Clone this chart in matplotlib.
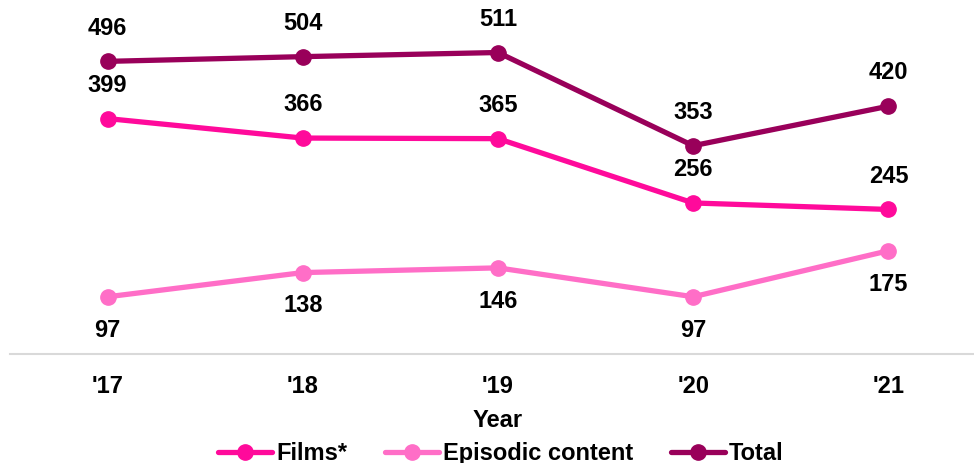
import matplotlib.pyplot as plt

years = ["'17", "'18", "'19", "'20", "'21"]
films = [399, 366, 365, 256, 245]
episodic = [97, 138, 146, 97, 175]
total = [496, 504, 511, 353, 420]

plt.rcParams['font.family'] = ['Liberation Sans', 'DejaVu Sans']
plt.rcParams['font.weight'] = 'bold'

fig = plt.figure(figsize=(9.74, 4.63), dpi=100)
ax = fig.add_axes([10 / 974, 1 - 354 / 463, 976 / 974, 354 / 463])

x = range(len(years))
series = [
    ('Films*', films, '#ff0a9b', 'above'),
    ('Episodic content', episodic, '#ff6ec7', 'below'),
    ('Total', total, '#99005a', 'above'),
]
for name, vals, color, pos in series:
    ax.plot(x, vals, color=color, linewidth=3.8, marker='o', markersize=11,
            label=name, solid_capstyle='round', clip_on=False)
    for i, v in enumerate(vals):
        off = 24 if pos == 'above' else -24
        ax.annotate(str(v), (i, v), textcoords='offset points', xytext=(0, off),
                    ha='center', va='center', fontsize=17, fontweight='bold')

ax.set_xlim(-0.5, 4.5)
ax.set_ylim(0, 600)
ax.set_xticks(list(x))
ax.set_xticklabels(years, fontsize=17, fontweight='bold')
ax.tick_params(axis='x', length=0, pad=15)
ax.set_yticks([])
for s in ['top', 'right', 'left']:
    ax.spines[s].set_visible(False)
ax.spines['bottom'].set_color('#d9d9d9')
ax.spines['bottom'].set_linewidth(1.5)
ax.set_xlabel('Year', fontsize=17, fontweight='bold', labelpad=8)

fig.legend(loc='lower center', bbox_to_anchor=(0.514, -0.05), ncol=3, frameon=False,
           fontsize=17, handlelength=2.3, columnspacing=1.6, handletextpad=0.15)

fig.savefig('out.png', dpi=100)
